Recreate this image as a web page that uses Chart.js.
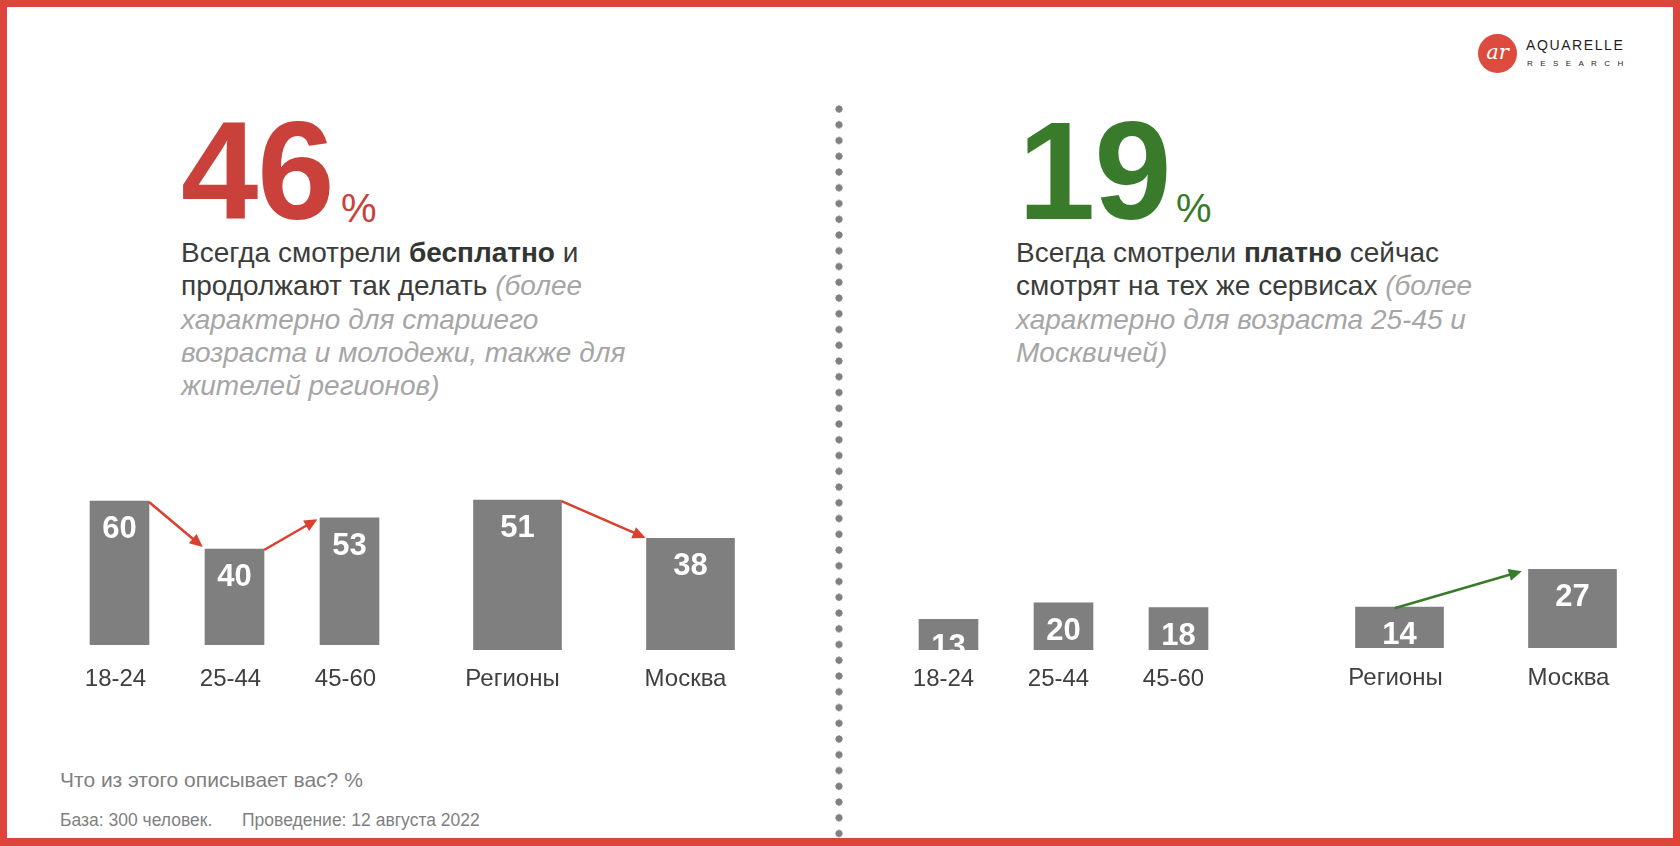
<!DOCTYPE html>
<html lang="ru">
<head>
<meta charset="utf-8">
<title>Aquarelle Research</title>
<script src="https://cdn.jsdelivr.net/npm/chart.js@4.4.1/dist/chart.umd.min.js"></script>
<style>
html,body{margin:0;padding:0;width:1680px;height:846px;overflow:hidden;background:#fff;font-family:"Liberation Sans",Arial,Helvetica,sans-serif;}
#frame{position:absolute;left:0;top:0;width:1680px;height:846px;box-sizing:border-box;border:7px solid #DC4539;border-bottom-width:8px;pointer-events:none;z-index:5;}
.abs{position:absolute;white-space:nowrap;}
.big{font-weight:bold;font-size:139px;line-height:139px;letter-spacing:-1px;}
.pct{font-size:40px;line-height:40px;}
.body{font-size:28px;line-height:33.3px;color:#3b3d3b;}
.body b{font-weight:bold;color:#333533;}
.body i{color:#a6a6a6;}
.red{color:#C9413A;}
.green{color:#3A7B2B;}
.foot1{font-size:21px;line-height:21px;color:#7f7f7f;}
.foot2{font-size:17.5px;line-height:17.5px;color:#7f7f7f;}
#divider{position:absolute;left:835px;top:105px;width:8px;height:741px;
  background-image:radial-gradient(circle at 4px 4px,#808080 3.3px,rgba(128,128,128,0) 3.9px);
  background-size:8px 15.76px;background-repeat:repeat-y;}
#logoCircle{position:absolute;left:1478px;top:34px;width:39px;height:39px;border-radius:50%;background:#DC4B3E;}
#logoAr{position:absolute;left:1482px;top:38px;width:31px;text-align:center;font-family:"DejaVu Serif",serif;font-style:italic;font-size:21px;line-height:28px;color:#fff;}
#logo1{position:absolute;left:1526px;top:37px;font-size:14px;line-height:16px;letter-spacing:1.6px;color:#1e1e1e;}
#logo2{position:absolute;left:1527px;top:59px;font-size:8px;line-height:9px;letter-spacing:7.4px;color:#1e1e1e;}
canvas{position:absolute;}
</style>
</head>
<body>
<div id="frame"></div>

<div id="logoCircle"></div>
<div id="logoAr">ar</div>
<div id="logo1">AQUARELLE</div>
<div id="logo2">RESEARCH</div>

<div id="divider"></div>

<div class="abs big red" id="numFree" style="left:181px;top:101px;"></div>
<div class="abs pct red" style="left:341px;top:188px;">%</div>
<div class="abs body" style="left:181px;top:236px;">
Всегда смотрели <b>бесплатно</b> и<br>
продолжают так делать <i>(более<br>
характерно для старшего<br>
возраста и молодежи, также для<br>
жителей регионов)</i>
</div>

<div class="abs big green" id="numPaid" style="left:1018px;top:101px;"></div>
<div class="abs pct green" style="left:1176px;top:188px;">%</div>
<div class="abs body" style="left:1016px;top:236px;">
Всегда смотрели <b>платно</b> сейчас<br>
смотрят на тех же сервисах <i>(более<br>
характерно для возраста 25-45 и<br>
Москвичей)</i>
</div>

<div class="abs foot1" style="left:60px;top:769px;">Что из этого описывает вас? %</div>
<div class="abs foot2" style="left:60px;top:812px;">База: 300 человек.</div>
<div class="abs foot2" style="left:242px;top:812px;">Проведение: 12 августа 2022</div>

<canvas id="cFreeAge"></canvas>
<canvas id="cFreeRegion"></canvas>
<canvas id="cPaidAge"></canvas>
<canvas id="cPaidRegion"></canvas>

<script>
// ---- data ----
const ageCategories = ['18-24', '25-44', '45-60'];
const regionCategories = ['Регионы', 'Москва'];
const freeAgeValues = [60, 40, 53];
const freeRegionValues = [51, 38];
const paidAgeValues = [13, 20, 18];
const paidRegionValues = [14, 27];
const freeAgeArrows = [[0, 1], [1, 2]];
const freeRegionArrows = [[0, 1]];
const paidAgeArrows = [];
const paidRegionArrows = [[0, 1]];
const headlineFree = '46';
const headlinePaid = '19';

document.getElementById('numFree').textContent = headlineFree;
document.getElementById('numPaid').textContent = headlinePaid;

// ---- plugins ----
const barLabelPlugin = {
  id: 'barLabels',
  afterDatasetsDraw(chart) {
    const ctx = chart.ctx;
    const meta = chart.getDatasetMeta(0);
    const data = chart.data.datasets[0].data;
    meta.data.forEach((bar, i) => {
      const p = bar.getProps(['x', 'y', 'base', 'width'], true);
      ctx.save();
      ctx.beginPath();
      ctx.rect(p.x - p.width / 2, p.y, p.width, p.base - p.y);
      ctx.clip();
      ctx.fillStyle = '#ffffff';
      ctx.font = 'bold 31px "Liberation Sans", Arial, sans-serif';
      ctx.textAlign = 'center';
      ctx.textBaseline = 'alphabetic';
      ctx.fillText(String(data[i]), p.x, p.y + 37);
      ctx.restore();
    });
  }
};

const arrowPlugin = {
  id: 'arrows',
  afterDatasetsDraw(chart, args, opts) {
    const list = opts.list || [];
    if (!list.length) return;
    const ctx = chart.ctx;
    const bars = chart.getDatasetMeta(0).data;
    list.forEach(([a, b]) => {
      const A = bars[a].getProps(['x', 'y', 'width'], true);
      const B = bars[b].getProps(['x', 'y', 'width'], true);
      let x1, y1;
      if (opts.start === 'center') { x1 = A.x - 5; y1 = A.y + 1; }
      else { x1 = A.x + A.width / 2; y1 = A.y + 1; }
      let x2 = B.x - B.width / 2, y2 = B.y;
      const dx = x2 - x1, dy = y2 - y1;
      const len = Math.hypot(dx, dy);
      const ux = dx / len, uy = dy / len;
      x2 -= ux * opts.gap; y2 -= uy * opts.gap;
      const head = 13, hw = 6;
      const bx = x2 - ux * head, by = y2 - uy * head;
      ctx.save();
      ctx.strokeStyle = opts.color;
      ctx.fillStyle = opts.color;
      ctx.lineWidth = 2.5;
      ctx.beginPath();
      ctx.moveTo(x1, y1);
      ctx.lineTo(bx + ux * 2, by + uy * 2);
      ctx.stroke();
      ctx.beginPath();
      ctx.moveTo(x2, y2);
      ctx.lineTo(bx - uy * hw, by + ux * hw);
      ctx.lineTo(bx + uy * hw, by - ux * hw);
      ctx.closePath();
      ctx.fill();
      ctx.restore();
    });
  }
};

// ---- chart factory ----
const AXIS_H = 60;
function makeChart(id, labels, values, cfg) {
  const canvas = document.getElementById(id);
  const areaH = cfg.bottom - cfg.top;
  const h = areaH + AXIS_H;
  canvas.width = cfg.width;
  canvas.height = h;
  canvas.style.left = cfg.left + 'px';
  canvas.style.top = cfg.top + 'px';
  canvas.style.width = cfg.width + 'px';
  canvas.style.height = h + 'px';
  return new Chart(canvas, {
    type: 'bar',
    data: {
      labels: labels,
      datasets: [{
        data: values,
        backgroundColor: '#7f7f7f',
        borderWidth: 0,
        barThickness: cfg.barW
      }]
    },
    options: {
      responsive: false,
      maintainAspectRatio: false,
      devicePixelRatio: 1,
      animation: false,
      layout: { padding: 0 },
      scales: {
        x: {
          type: 'category',
          offset: true,
          grid: { display: false, drawTicks: false },
          border: { display: false },
          ticks: {
            color: '#3f3f3f',
            font: { family: '"Liberation Sans", Arial, sans-serif', size: 24, lineHeight: 1 },
            padding: 679 - cfg.bottom - 12,
            labelOffset: cfg.labelShift,
            maxRotation: 0,
            autoSkip: false
          },
          afterFit(scale) { scale.height = AXIS_H; }
        },
        y: {
          display: false,
          min: 0,
          max: areaH / cfg.pxPerUnit
        }
      },
      plugins: {
        legend: { display: false },
        tooltip: { enabled: false },
        arrows: { list: cfg.arrows, color: cfg.arrowColor, start: cfg.arrowStart, gap: cfg.gap }
      }
    },
    plugins: [barLabelPlugin, arrowPlugin]
  });
}

makeChart('cFreeAge', ageCategories, freeAgeValues, {
  left: 62, width: 345, top: 470, bottom: 645, pxPerUnit: 2.4, barW: 59, labelShift: -4,
  arrows: freeAgeArrows, arrowColor: '#DA3F2F', arrowStart: 'right', gap: 3
});
makeChart('cFreeRegion', regionCategories, freeRegionValues, {
  left: 430.5, width: 346, top: 470, bottom: 650, pxPerUnit: 2.94, barW: 88, labelShift: -5,
  arrows: freeRegionArrows, arrowColor: '#DA3F2F', arrowStart: 'right', gap: 1
});
makeChart('cPaidAge', ageCategories, paidAgeValues, {
  left: 891, width: 345, top: 470, bottom: 650, pxPerUnit: 2.36, barW: 59, labelShift: -5,
  arrows: paidAgeArrows, arrowColor: '#3A7B2B', arrowStart: 'center', gap: 3
});
makeChart('cPaidRegion', regionCategories, paidRegionValues, {
  left: 1313, width: 346, top: 470, bottom: 648.3, pxPerUnit: 2.92, barW: 88, labelShift: -4,
  arrows: paidRegionArrows, arrowColor: '#3A7B2B', arrowStart: 'center', gap: 7
});
</script>
</body>
</html>
